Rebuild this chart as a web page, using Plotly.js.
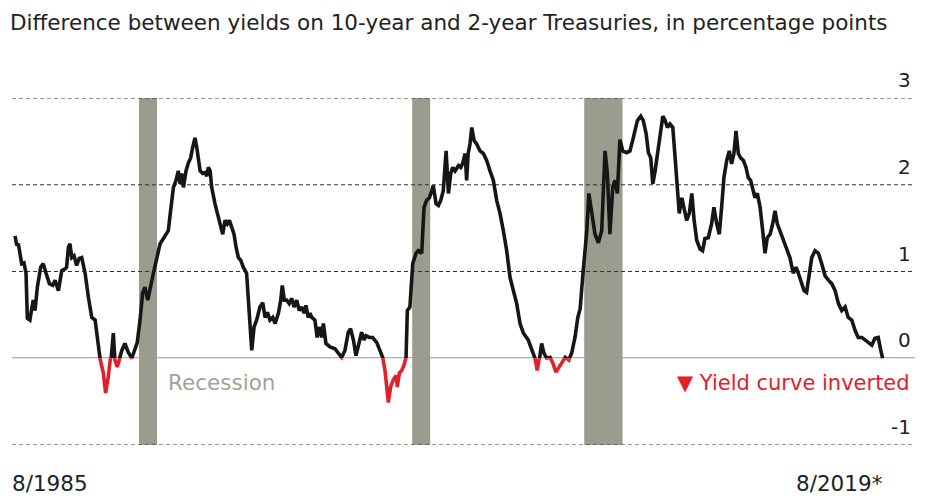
<!DOCTYPE html>
<html>
<head>
<meta charset="utf-8">
<script src="https://cdn.plot.ly/plotly-3.0.1.min.js"></script>
<style>html,body{margin:0;padding:0;background:#fff;}#chart{width:932px;height:496px;}</style>
</head>
<body>
<div id="chart"></div>
<script>
// Decimal years and spread (10y - 2y), percentage points
const years = [
1985.70,1985.77,1985.83,1985.96,1986.05,1986.13,1986.18,1986.28,1986.35,1986.41,1986.48,1986.57,1986.70,1986.80,1986.91,
1987.04,1987.17,1987.26,1987.39,1987.52,1987.65,1987.71,1987.78,1987.84,1987.91,1988.00,1988.10,1988.20,1988.30,1988.43,
1988.56,1988.69,1988.82,1988.91,1989.01,1989.14,1989.23,1989.33,1989.44,1989.53,1989.59,1989.68,1989.76,1989.86,1989.98,
1990.11,1990.25,1990.37,1990.46,1990.57,1990.67,1990.76,1990.87,1991.09,1991.22,1991.35,1991.48,1991.61,1991.67,1991.76,
1991.87,1991.97,1992.06,1992.13,1992.19,1992.26,1992.36,1992.45,1992.54,1992.62,1992.71,1992.78,1992.84,1992.91,1993.01,
1993.10,1993.17,1993.23,1993.30,1993.36,1993.49,1993.62,1993.71,1993.79,1993.88,1993.97,1994.05,1994.14,1994.23,1994.31,
1994.40,1994.49,1994.59,1994.72,1994.79,1994.85,1994.92,1995.01,1995.11,1995.24,1995.35,1995.44,1995.53,1995.63,1995.74,
1995.83,1995.96,1996.05,1996.11,1996.19,1996.28,1996.38,1996.48,1996.57,1996.67,1996.77,1996.87,1996.96,1997.03,1997.12,
1997.19,1997.26,1997.38,1997.47,1997.55,1997.65,1997.71,1997.81,1997.97,1998.16,1998.29,1998.42,1998.55,1998.68,1998.77,
1998.88,1998.98,1999.11,1999.20,1999.29,1999.37,1999.50,1999.63,1999.79,1999.92,2000.02,2000.11,2000.18,2000.24,2000.33,
2000.43,2000.54,2000.59,2000.67,2000.76,2000.85,2000.93,2000.98,2001.08,2001.19,2001.32,2001.41,2001.54,2001.63,2001.73,
2001.84,2001.93,2001.99,2002.10,2002.19,2002.28,2002.38,2002.49,2002.58,2002.67,2002.75,2002.84,2002.97,2003.06,2003.14,
2003.23,2003.29,2003.35,2003.42,2003.49,2003.58,2003.68,2003.81,2003.94,2004.07,2004.20,2004.33,2004.46,2004.59,2004.72,
2004.85,2004.98,2005.11,2005.24,2005.37,2005.50,2005.69,2005.82,2005.95,2006.04,2006.12,2006.21,2006.30,2006.41,2006.54,
2006.64,2006.77,2006.90,2007.03,2007.13,2007.27,2007.38,2007.51,2007.62,2007.71,2007.83,2007.97,2008.05,2008.16,2008.29,
2008.42,2008.55,2008.68,2008.77,2008.87,2008.98,2009.07,2009.16,2009.26,2009.37,2009.52,2009.65,2009.78,2009.94,2010.07,
2010.17,2010.28,2010.37,2010.46,2010.54,2010.63,2010.75,2010.85,2010.93,2011.02,2011.11,2011.21,2011.32,2011.41,2011.49,
2011.57,2011.67,2011.76,2011.86,2011.96,2012.06,2012.15,2012.25,2012.38,2012.48,2012.57,2012.70,2012.83,2012.92,2013.03,
2013.13,2013.22,2013.31,2013.42,2013.52,2013.61,2013.70,2013.78,2013.87,2013.96,2014.07,2014.17,2014.26,2014.35,2014.43,
2014.52,2014.61,2014.72,2014.82,2014.91,2015.00,2015.11,2015.21,2015.30,2015.39,2015.49,2015.62,2015.76,2015.88,2016.01,
2016.12,2016.21,2016.30,2016.43,2016.53,2016.64,2016.73,2016.86,2016.99,2017.12,2017.25,2017.38,2017.51,2017.64,2017.77,
2017.90,2018.03,2018.15,2018.29,2018.42,2018.54,2018.68,2018.81,2018.93,2019.07,2019.19,2019.32,2019.42,2019.49
];
const spread = [
1.41,1.30,1.32,1.09,1.10,0.98,0.46,0.44,0.57,0.67,0.55,0.82,1.05,1.09,0.98,
0.86,0.84,0.90,0.78,1.01,1.03,1.05,1.28,1.32,1.16,1.18,1.07,1.15,1.16,0.98,
0.70,0.47,0.44,0.21,0.00,-0.17,-0.40,-0.22,-0.02,0.29,-0.02,-0.10,-0.02,0.09,0.17,
0.07,0.00,0.09,0.18,0.44,0.75,0.82,0.67,0.98,1.13,1.32,1.38,1.43,1.47,1.70,
1.97,2.05,2.16,2.01,2.13,1.97,2.16,2.25,2.31,2.43,2.54,2.43,2.31,2.16,2.13,
2.14,2.10,2.20,2.16,1.97,1.78,1.62,1.51,1.43,1.59,1.55,1.59,1.51,1.43,1.28,
1.16,1.13,1.05,0.98,0.70,0.36,0.09,0.36,0.44,0.59,0.64,0.47,0.53,0.44,0.47,
0.40,0.52,0.67,0.84,0.67,0.67,0.63,0.69,0.59,0.67,0.55,0.59,0.52,0.61,0.47,
0.52,0.47,0.44,0.24,0.36,0.24,0.40,0.17,0.13,0.11,0.06,0.01,0.09,0.30,0.34,
0.21,0.03,0.21,0.30,0.21,0.26,0.24,0.24,0.18,0.09,0.01,-0.14,-0.37,-0.51,-0.33,
-0.25,-0.20,-0.33,-0.17,-0.14,-0.08,0.01,0.55,0.59,1.09,1.21,1.24,1.21,1.74,1.82,
1.85,1.93,1.99,1.78,1.76,1.82,1.93,2.39,1.90,2.13,2.20,2.16,2.22,2.20,2.25,
2.36,2.05,2.36,2.47,2.66,2.51,2.47,2.39,2.36,2.28,2.16,2.05,1.82,1.67,1.47,
1.24,0.93,0.78,0.63,0.40,0.29,0.21,0.11,0.00,-0.14,-0.02,0.17,0.06,0.00,0.01,
-0.05,-0.16,-0.10,-0.05,0.01,-0.02,0.06,0.24,0.47,0.57,1.01,1.47,1.90,1.65,1.43,
1.33,1.47,2.39,2.13,1.43,1.97,2.05,1.90,2.52,2.39,2.37,2.39,2.54,2.74,2.79,
2.74,2.59,2.37,2.31,2.01,2.16,2.39,2.62,2.79,2.74,2.66,2.70,2.66,2.31,1.97,
1.67,1.85,1.74,1.59,1.67,1.90,1.59,1.36,1.26,1.24,1.38,1.39,1.55,1.74,1.55,
1.43,1.74,2.08,2.28,2.39,2.24,2.36,2.62,2.36,2.31,2.28,2.20,2.08,2.05,1.97,
1.85,1.90,1.74,1.47,1.21,1.39,1.43,1.55,1.70,1.55,1.47,1.39,1.28,1.16,0.98,
1.05,0.98,0.90,0.78,0.76,0.98,1.16,1.24,1.21,1.09,0.95,0.90,0.86,0.78,0.63,
0.55,0.59,0.47,0.44,0.32,0.24,0.24,0.21,0.18,0.15,0.23,0.24,0.09,0.00
];
const recessionStart = [1990.53, 2001.17, 2007.87];
const recessionEnd   = [1991.23, 2001.87, 2009.36];
const gridValues = [3, 2, 1, -1];
const tickLabels = ['3', '2', '1', '0', '-1'];
const tickValues = [3, 2, 1, 0, -1];
const dateLabels = ['8/1985', '8/2019*'];

const FONT = 'DejaVu Sans, Liberation Sans, sans-serif';
const shapes = [];
recessionStart.forEach((s, i) => {
  shapes.push({type:'rect', xref:'x', yref:'paper', x0:s, x1:recessionEnd[i], y0:0, y1:1,
    fillcolor:'#9b9c8d', line:{width:0}, layer:'below'});
});
gridValues.forEach(v => {
  shapes.push({type:'line', xref:'paper', yref: v < 0 ? 'y2' : 'y', x0:0, x1:1, y0:v, y1:v,
    line:{color:'#333', width:1, dash:'4px,3px'}, layer:'below'});
});
shapes.push({type:'line', xref:'paper', yref:'y', x0:0, x1:1, y0:0, y1:0,
  line:{color:'#999', width:2}, layer:'below'});

const annotations = [];
tickValues.forEach((v, i) => {
  annotations.push({xref:'paper', yref: v < 0 ? 'y2' : 'y', x:0.9975, y:v, xanchor:'right', yanchor:'bottom',
    text: tickLabels[i], showarrow:false, font:{family:FONT, size:20, color:'#222'}, yshift:4});
});
annotations.push({xref:'paper', yref:'paper', x:0.1705, y:0.18, xanchor:'left', yanchor:'middle',
  text:'Recession', showarrow:false, font:{family:FONT, size:21.5, color:'#a2a394'}});
annotations.push({xref:'paper', yref:'paper', x:0.9967, y:0.18, xanchor:'right', yanchor:'middle',
  text:'▼ Yield curve inverted', showarrow:false, font:{family:FONT, size:21, color:'#e3202a'}});
annotations.push({xref:'paper', yref:'paper', x:-0.002, y:-0.11, xanchor:'left', yanchor:'middle',
  text:dateLabels[0], showarrow:false, font:{family:FONT, size:21.5, color:'#222'}});
annotations.push({xref:'paper', yref:'paper', x:0.9668, y:-0.11, xanchor:'right', yanchor:'middle',
  text:dateLabels[1], showarrow:false, font:{family:FONT, size:21.5, color:'#222'}});

const traces = [
  {x: years, y: spread, type:'scatter', mode:'lines', xaxis:'x', yaxis:'y',
   line:{color:'#161616', width:3.6, shape:'linear'}, hoverinfo:'skip'},
  {x: years, y: spread, type:'scatter', mode:'lines', xaxis:'x', yaxis:'y2',
   line:{color:'#e3202a', width:3.6, shape:'linear'}, hoverinfo:'skip'}
];

const layout = {
  width:932, height:496,
  paper_bgcolor:'#fff', plot_bgcolor:'rgba(0,0,0,0)',
  margin:{l:12, r:17, t:98, b:51, pad:0},
  showlegend:false,
  title:{text:'Difference between yields on 10-year and 2-year Treasuries, in percentage points',
    x:10/932, xanchor:'left', xref:'container', y:1-22/496, yanchor:'middle', yref:'container',
    font:{family:FONT, size:21.5, color:'#222'}},
  xaxis:{range:[1985.583, 2020.752], visible:false, fixedrange:true, anchor:'y'},
  yaxis:{domain:[0.25, 1], range:[0, 3], visible:false, fixedrange:true, anchor:'x'},
  yaxis2:{domain:[0, 0.25], range:[-1, 0], visible:false, fixedrange:true, anchor:'x'},
  shapes: shapes,
  annotations: annotations
};
Plotly.newPlot('chart', traces, layout, {displayModeBar:false, staticPlot:true});
</script>
</body>
</html>
